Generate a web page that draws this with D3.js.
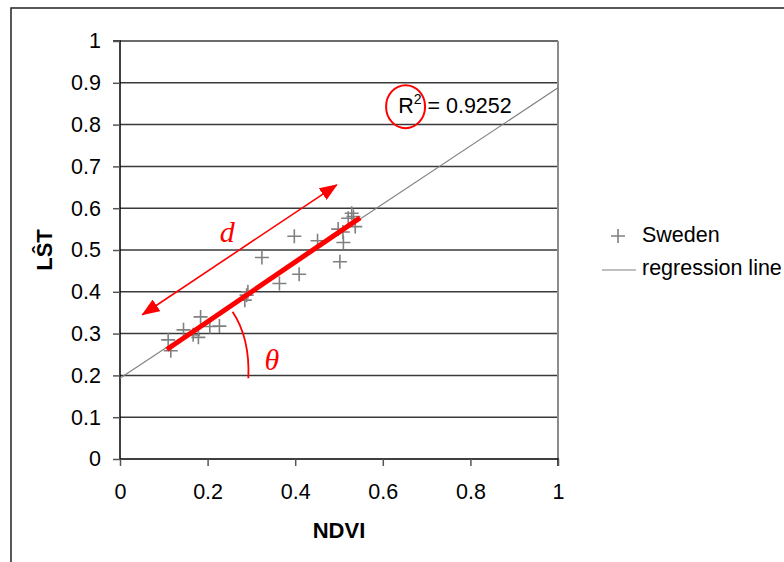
<!DOCTYPE html>
<html>
<head>
<meta charset="utf-8">
<script src="https://cdn.jsdelivr.net/npm/d3@7"></script>
<style>
  body { margin: 0; background: #fff; }
  text { font-family: "Liberation Sans", Arial, sans-serif; }
</style>
</head>
<body>
<script>
const width = 784;
const height = 562;

// scatter data (NDVI, LST)
const ndvi = [0.110, 0.116, 0.145, 0.167, 0.179, 0.184, 0.205, 0.227, 0.289, 0.285, 0.292,
              0.324, 0.364, 0.409, 0.398, 0.451, 0.502, 0.510, 0.498, 0.529, 0.521, 0.537, 0.533, 0.509];
const lst = [0.285, 0.259, 0.309, 0.297, 0.291, 0.340, 0.317, 0.318, 0.392, 0.380, 0.400,
             0.482, 0.420, 0.442, 0.533, 0.522, 0.472, 0.518, 0.550, 0.588, 0.576, 0.556, 0.580, 0.543];

const xTicks = [0, 0.2, 0.4, 0.6, 0.8, 1];
const yTicks = [0, 0.1, 0.2, 0.3, 0.4, 0.5, 0.6, 0.7, 0.8, 0.9, 1];

const slope = 0.695;
const intercept = 0.193;
const r2Label = "0.9252";

// annotation anchors in data units
const dSegment = [[0.107, 0.262], [0.548, 0.577]];
const dArrow = [[0.051, 0.345], [0.495, 0.656]];
const thetaArc = [[0.257, 0.352], [0.297, 0.289], [0.293, 0.193]];
const dText = [0.245, 0.519];
const thetaText = [0.347, 0.213];
const r2Pos = [0.635, 0.828];
const r2Ring = [0.652, 0.843];

const fontSize = "21.5px";

const svg = d3.select("body").append("svg")
    .attr("width", width)
    .attr("height", height);

// outer frame (runs off the right and bottom edges)
svg.append("rect")
    .attr("x", 11).attr("y", 8)
    .attr("width", width + 10).attr("height", height + 10)
    .style("fill", "none")
    .style("stroke", "#222")
    .style("stroke-width", 1.5);

const x = d3.scaleLinear().domain([0, 1]).range([120, 558]);
const y = d3.scaleLinear().domain([0, 1]).range([459, 41]);

// horizontal gridlines
svg.append("g")
    .selectAll("line")
    .data(yTicks.slice(1))
    .enter()
    .append("line")
    .attr("x1", x(0)).attr("x2", x(1))
    .attr("y1", d => y(d)).attr("y2", d => y(d))
    .style("stroke", "#3a3a3a")
    .style("stroke-width", 1.5);

// right edge of plot area
svg.append("line")
    .attr("x1", x(1)).attr("x2", x(1))
    .attr("y1", y(1)).attr("y2", y(0))
    .style("stroke", "#8c8c8c")
    .style("stroke-width", 2);

const yAxis = svg.append("g")
    .attr("transform", `translate(${x(0)},0)`)
    .call(d3.axisLeft(y).tickValues(yTicks).tickFormat(d3.format("")).tickSize(7).tickPadding(12));

const xAxis = svg.append("g")
    .attr("transform", `translate(0,${y(0)})`)
    .call(d3.axisBottom(x).tickValues(xTicks).tickFormat(d3.format("")).tickSize(7).tickPadding(18));

[yAxis, xAxis].forEach(g => {
    g.select(".domain").style("stroke", "#000").style("stroke-width", 1.5);
    g.selectAll(".tick line").style("stroke", "#555").style("stroke-width", 1.5);
    g.selectAll("text")
        .style("font-family", "Liberation Sans, Arial, sans-serif")
        .style("font-size", fontSize)
        .style("fill", "#000");
});
xAxis.select(".domain").attr("d", `M${x(0)},0H${x(1)}V7`);
yAxis.select(".domain").attr("d", `M-7,${y(1)}H0V${y(0)}`);

// axis titles
svg.append("text")
    .attr("x", x(0.5)).attr("y", 538)
    .attr("text-anchor", "middle")
    .style("font-size", "22px").style("font-weight", "bold")
    .text("NDVI");

svg.append("text")
    .attr("transform", `translate(52,${y(0.5)}) rotate(-90)`)
    .attr("text-anchor", "middle")
    .style("font-size", "22px").style("font-weight", "bold")
    .text("LŜT");

// regression line
svg.append("line")
    .attr("x1", x(0)).attr("y1", y(intercept))
    .attr("x2", x(1)).attr("y2", y(intercept + slope))
    .style("stroke", "#808080")
    .style("stroke-width", 1.2);

// scatter points drawn as "+"
const pts = ndvi.map((v, i) => [v, lst[i]]);
const arm = 7;
svg.append("g")
    .selectAll("path")
    .data(pts)
    .enter()
    .append("path")
    .attr("d", d => `M${x(d[0]) - arm},${y(d[1])}h${2 * arm}M${x(d[0])},${y(d[1]) - arm}v${2 * arm}`)
    .style("stroke", "#808080")
    .style("stroke-width", 1.6)
    .style("fill", "none");

// red annotations
const defs = svg.append("defs");
defs.append("marker")
    .attr("id", "head")
    .attr("markerUnits", "userSpaceOnUse")
    .attr("viewBox", "0 0 18 14")
    .attr("refX", 17).attr("refY", 7)
    .attr("markerWidth", 18).attr("markerHeight", 14)
    .attr("orient", "auto-start-reverse")
    .append("path")
    .attr("d", "M0,0L18,7L0,14Z")
    .style("fill", "red");

svg.append("line")
    .attr("x1", x(dArrow[0][0])).attr("y1", y(dArrow[0][1]))
    .attr("x2", x(dArrow[1][0])).attr("y2", y(dArrow[1][1]))
    .attr("marker-start", "url(#head)")
    .attr("marker-end", "url(#head)")
    .style("stroke", "red")
    .style("stroke-width", 1.6);

svg.append("line")
    .attr("x1", x(dSegment[0][0])).attr("y1", y(dSegment[0][1]))
    .attr("x2", x(dSegment[1][0])).attr("y2", y(dSegment[1][1]))
    .style("stroke", "red")
    .style("stroke-width", 5);

const arcPath = d3.path();
arcPath.moveTo(x(thetaArc[0][0]), y(thetaArc[0][1]));
arcPath.quadraticCurveTo(x(thetaArc[1][0]), y(thetaArc[1][1]), x(thetaArc[2][0]), y(thetaArc[2][1]));
svg.append("path")
    .attr("d", arcPath.toString())
    .style("fill", "none")
    .style("stroke", "red")
    .style("stroke-width", 1.8);

svg.append("text")
    .attr("x", x(dText[0])).attr("y", y(dText[1]))
    .attr("text-anchor", "middle")
    .style("font-family", "Liberation Serif, Times New Roman, serif")
    .style("font-style", "italic")
    .style("font-size", "30px")
    .style("fill", "red")
    .text("d");

svg.append("text")
    .attr("x", x(thetaText[0])).attr("y", y(thetaText[1]))
    .attr("text-anchor", "middle")
    .style("font-family", "Liberation Serif, Times New Roman, serif")
    .style("font-style", "italic")
    .style("font-size", "30px")
    .style("fill", "red")
    .text("θ");

// R squared label
const r2 = svg.append("text")
    .attr("x", x(r2Pos[0])).attr("y", y(r2Pos[1]))
    .style("font-size", fontSize)
    .style("fill", "#000");
r2.append("tspan").text("R");
r2.append("tspan").attr("dy", -9).style("font-size", "14px").text("2");
r2.append("tspan").attr("dy", 9).text(" = " + r2Label);

svg.append("ellipse")
    .attr("cx", x(r2Ring[0])).attr("cy", y(r2Ring[1]))
    .attr("rx", 19.5).attr("ry", 21.5)
    .style("fill", "none")
    .style("stroke", "red")
    .style("stroke-width", 2);

// legend
const legend = svg.append("g").attr("transform", "translate(602,0)");
legend.append("path")
    .attr("d", `M${16 - arm},236h${2 * arm}M16,${236 - arm}v${2 * arm}`)
    .style("stroke", "#808080")
    .style("stroke-width", 1.6);
legend.append("text")
    .attr("x", 40).attr("y", 242)
    .style("font-size", fontSize)
    .text("Sweden");
legend.append("line")
    .attr("x1", 0).attr("x2", 34)
    .attr("y1", 270).attr("y2", 270)
    .style("stroke", "#808080")
    .style("stroke-width", 1.2);
legend.append("text")
    .attr("x", 40).attr("y", 275)
    .style("font-size", fontSize)
    .text("regression line");
</script>
</body>
</html>
